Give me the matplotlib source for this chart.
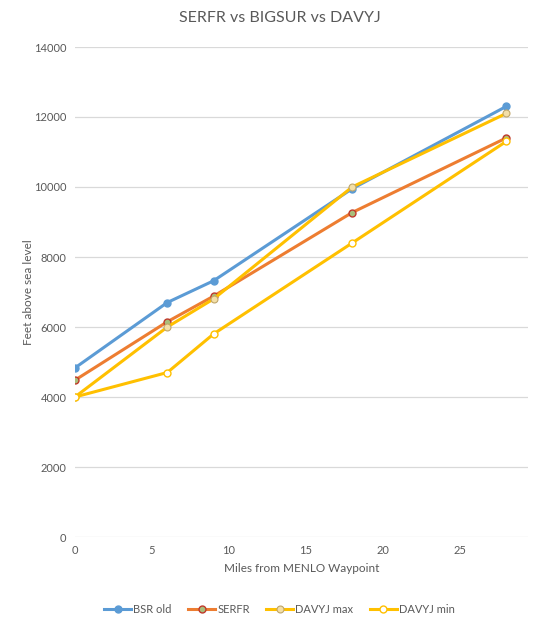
import matplotlib
matplotlib.use('Agg')
import matplotlib.pyplot as plt

# waypoint distances (miles from MENLO)
miles = [0, 6, 9, 18, 28]

# altitudes in feet
bsr_old = [4830, 6700, 7320, 9950, 12300]
serfr = [4480, 6150, 6880, 9270, 11400]
davyj_max = [4000, 6000, 6800, 10000, 12100]
davyj_min = [4000, 4700, 5800, 8400, 11300]

y_ticks = [0, 2000, 4000, 6000, 8000, 10000, 12000, 14000]
x_ticks = [0, 5, 10, 15, 20, 25]

grey = '#595959'
plt.rcParams['font.family'] = ['Lato', 'DejaVu Sans']

fig = plt.figure(figsize=(5.59, 6.25), dpi=100)
ax = fig.add_axes([0.134, 0.1408, 0.810, 0.784])

ax.plot(miles, bsr_old, color='#5B9BD5', lw=2.2, marker='o', ms=5,
        mfc='#5B9BD5', mec='#5B9BD5', label='BSR old')
ax.plot(miles, serfr, color='#ED7D31', lw=2.2, marker='o', ms=5,
        mfc='#A9BE7B', mec='#C0392B', mew=1.0, label='SERFR')
ax.plot(miles, davyj_max, color='#FFC000', lw=2.2, marker='o', ms=5,
        mfc='#F3DFA8', mec='#BFA66A', mew=0.8, label='DAVYJ max')
ax.plot(miles, davyj_min, color='#FFC000', lw=2.2, marker='o', ms=5,
        mfc='white', mec='#FFC000', mew=1.0, label='DAVYJ min')

ax.set_xlim(0, 29.4)
ax.set_ylim(0, 14000)
ax.set_xticks(x_ticks)
ax.set_yticks(y_ticks)
ax.grid(axis='y', color='#D9D9D9', lw=0.9)
ax.set_axisbelow(True)
for s in ax.spines.values():
    s.set_visible(False)
ax.tick_params(length=0, labelsize=8, colors=grey, pad=6)

ax.set_xlabel('Miles from MENLO Waypoint', fontsize=8.5, color=grey, labelpad=5)
ax.set_ylabel('Feet above sea level', fontsize=8.5, color=grey, labelpad=0)
fig.suptitle('SERFR vs BIGSUR vs DAVYJ', x=0.5, y=0.982, fontsize=11.5, color=grey)

fig.legend(loc='lower center', bbox_to_anchor=(0.5, 0.0), ncol=4, frameon=False,
           fontsize=8, labelcolor=grey, handlelength=2.4, columnspacing=1.5,
           handletextpad=0.2)

plt.savefig('out.png', dpi=100)
